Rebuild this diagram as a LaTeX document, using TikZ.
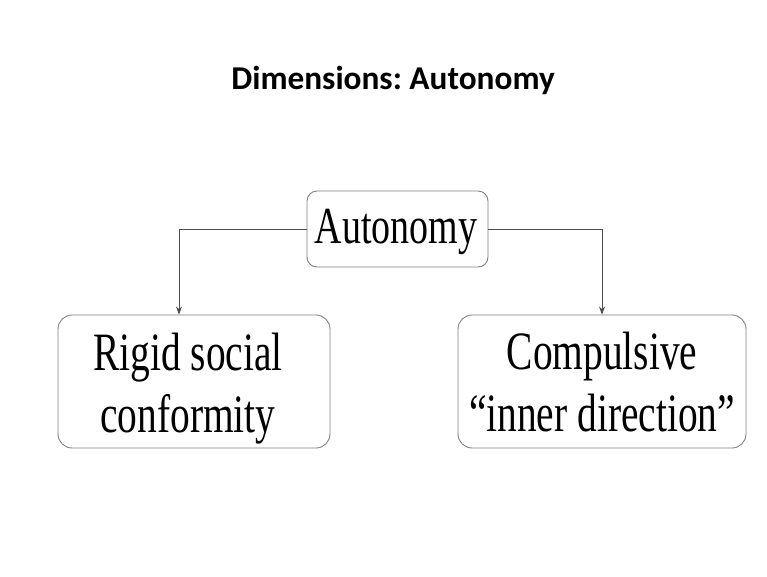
\documentclass[tikz,border=0pt]{standalone}
\usepackage{fontspec}
\setmainfont{Liberation Serif}
\newfontfamily\tnr[FakeStretch=0.73]{Liberation Serif}
\newfontfamily\titlefont{Carlito}
\usetikzlibrary{arrows.meta}
\frenchspacing
\begin{document}
\begin{tikzpicture}[x=1pt,y=-1pt,
  box/.style={draw=black!50, line width=0.9pt, rounded corners=14pt, inner sep=0pt},
  boxtext/.style={align=center, inner sep=0pt, font=\tnr\fontsize{54}{62}\selectfont},
  conn/.style={draw=black!70, line width=0.8pt, -{Stealth[length=8pt,width=6pt]}}]
\useasboundingbox (0,0) rectangle (767,576);
\fill[white] (0,0) rectangle (767,576);
\node[font=\titlefont\bfseries\fontsize{33.3}{40}\selectfont] (title) at (393,80) {Dimensions: Autonomy};
\node[box, minimum width=181pt, minimum height=76pt, rounded corners=10pt] (A) at (397.5,229) {};
\node[boxtext, font=\tnr\fontsize{52}{60}\selectfont] (At) at (396,232) {Autonomy};
\node[box, minimum width=272pt, minimum height=133pt] (L) at (194,381.5) {};
\node[boxtext] (Lt) at (188,389) {Rigid social\\conformity};
\node[box, minimum width=288pt, minimum height=133pt] (R) at (602,381.5) {};
\node[boxtext] (Rt) at (602,382) {Compulsive\\“inner direction”};
\draw[conn] (A.west) -| ([xshift=-15pt]L.north);
\draw[conn] (A.east) -| (R.north);
\end{tikzpicture}
\end{document}
